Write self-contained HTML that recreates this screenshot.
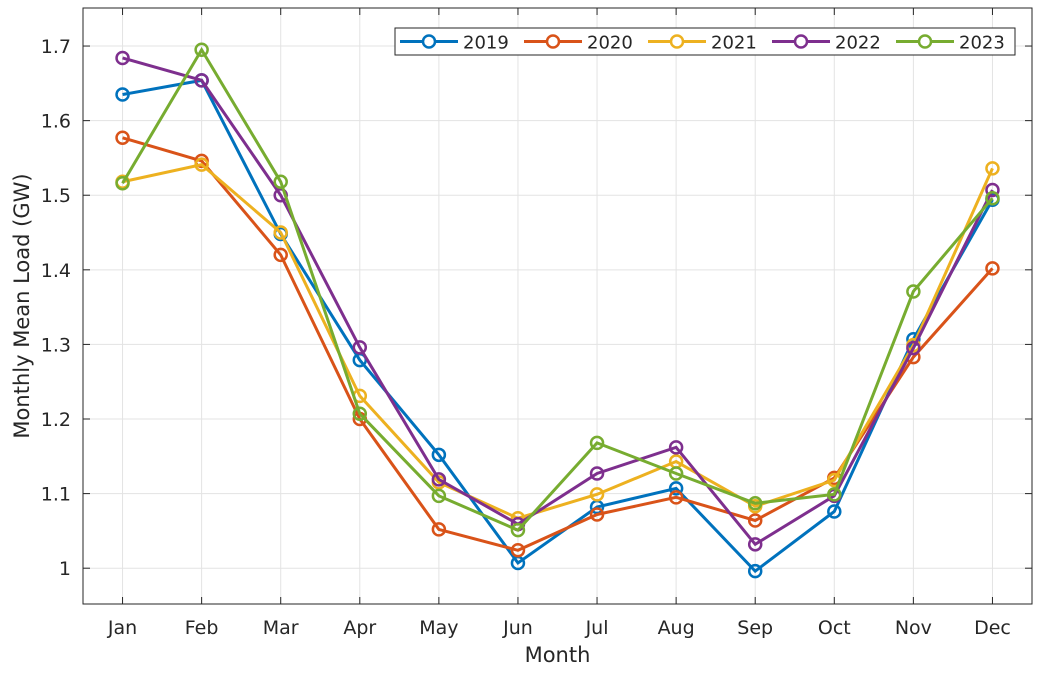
<!DOCTYPE html>
<html><head><meta charset="utf-8"><style>
body{margin:0;background:#fff;}
svg text{font-family:"DejaVu Sans","Liberation Sans",sans-serif;fill:#262626;}
</style></head><body>
<svg id="chart" width="1043" height="674"></svg>
<script>
const months=["Jan","Feb","Mar","Apr","May","Jun","Jul","Aug","Sep","Oct","Nov","Dec"];
const years=["2019","2020","2021","2022","2023"];
const s2019=[1.635,1.654,1.448,1.279,1.152,1.007,1.082,1.107,0.996,1.076,1.307,1.494];
const s2020=[1.577,1.546,1.420,1.200,1.052,1.024,1.072,1.095,1.064,1.121,1.283,1.402];
const s2021=[1.518,1.541,1.450,1.231,1.115,1.067,1.099,1.143,1.083,1.118,1.299,1.536];
const s2022=[1.684,1.654,1.500,1.296,1.119,1.059,1.127,1.162,1.032,1.097,1.295,1.507];
const s2023=[1.516,1.695,1.518,1.207,1.097,1.051,1.168,1.127,1.087,1.099,1.371,1.496];
const yTicks=[1,1.1,1.2,1.3,1.4,1.5,1.6,1.7];
const yTickLabels=["1","1.1","1.2","1.3","1.4","1.5","1.6","1.7"];
const series=[s2019,s2020,s2021,s2022,s2023];
const colors=["#0072BD","#D95319","#EDB120","#7E2F8E","#77AC30"];
const L=83,R=1032,T=8,B=604;
const yMin=0.952,yMax=1.751;
const x=i=>L+(i+0.5)/12*(R-L);
const y=v=>B-(v-yMin)/(yMax-yMin)*(B-T);
const svg=document.getElementById('chart');
const NS="http://www.w3.org/2000/svg";
function mk(t,a,p){const e=document.createElementNS(NS,t);for(const k in a)e.setAttribute(k,a[k]);(p||svg).appendChild(e);return e;}
const grid=mk('g',{});


months.forEach((m,i)=>{mk('line',{x1:x(i),x2:x(i),y1:T,y2:B,stroke:'#e3e3e3','stroke-width':1},grid);});
yTicks.forEach(v=>{mk('line',{x1:L,x2:R,y1:y(v),y2:y(v),stroke:'#e3e3e3','stroke-width':1},grid);});
const ax=mk('rect',{x:L,y:T,width:R-L,height:B-T,fill:'none',stroke:'#262626','stroke-width':1});


months.forEach((m,i)=>{
 mk('line',{x1:x(i),x2:x(i),y1:B,y2:B-7,stroke:'#262626'});
 mk('line',{x1:x(i),x2:x(i),y1:T,y2:T+7,stroke:'#262626'});
 const t=mk('text',{x:x(i),y:B+30,'text-anchor':'middle','font-size':19});t.textContent=m;
 
 
});
yTicks.forEach((v,i)=>{
 mk('line',{x1:L,x2:L+7,y1:y(v),y2:y(v),stroke:'#262626'});
 mk('line',{x1:R,x2:R-7,y1:y(v),y2:y(v),stroke:'#262626'});
 const t=mk('text',{x:L-12,y:y(v)+7,'text-anchor':'end','font-size':19});t.textContent=yTickLabels[i];
 
 
});
const xt=mk('text',{x:(L+R)/2,y:662,'text-anchor':'middle','font-size':21});xt.textContent='Month';


const yt=mk('text',{x:0,y:0,'text-anchor':'middle','font-size':21,transform:`translate(29,${(T+B)/2}) rotate(-90)`});yt.textContent='Monthly Mean Load (GW)';


series.forEach((s,k)=>{
 const g=mk('g',{});
 
 
 mk('polyline',{points:s.map((v,i)=>x(i)+','+y(v)).join(' '),fill:'none',stroke:colors[k],'stroke-width':3},g);
 s.forEach((v,i)=>{const c=mk('circle',{cx:x(i),cy:y(v),r:6,fill:'none',stroke:colors[k],'stroke-width':2.5},g);
  
  });
});
const lg=mk('g',{});


mk('rect',{x:395,y:28,width:620,height:27,fill:'#fff',stroke:'#262626','stroke-width':1},lg);
years.forEach((yr,k)=>{
 const x0=400+k*124;
 const e=mk('g',{},lg);
 
 
 mk('line',{x1:x0,x2:x0+58,y1:41.5,y2:41.5,stroke:colors[k],'stroke-width':3},e);
 mk('circle',{cx:x0+29,cy:41.5,r:6,fill:'#fff',stroke:colors[k],'stroke-width':2.5},e);
 const t=mk('text',{x:x0+63,y:48.5,'font-size':18},e);t.textContent=yr;
});
</script>
</body></html>
